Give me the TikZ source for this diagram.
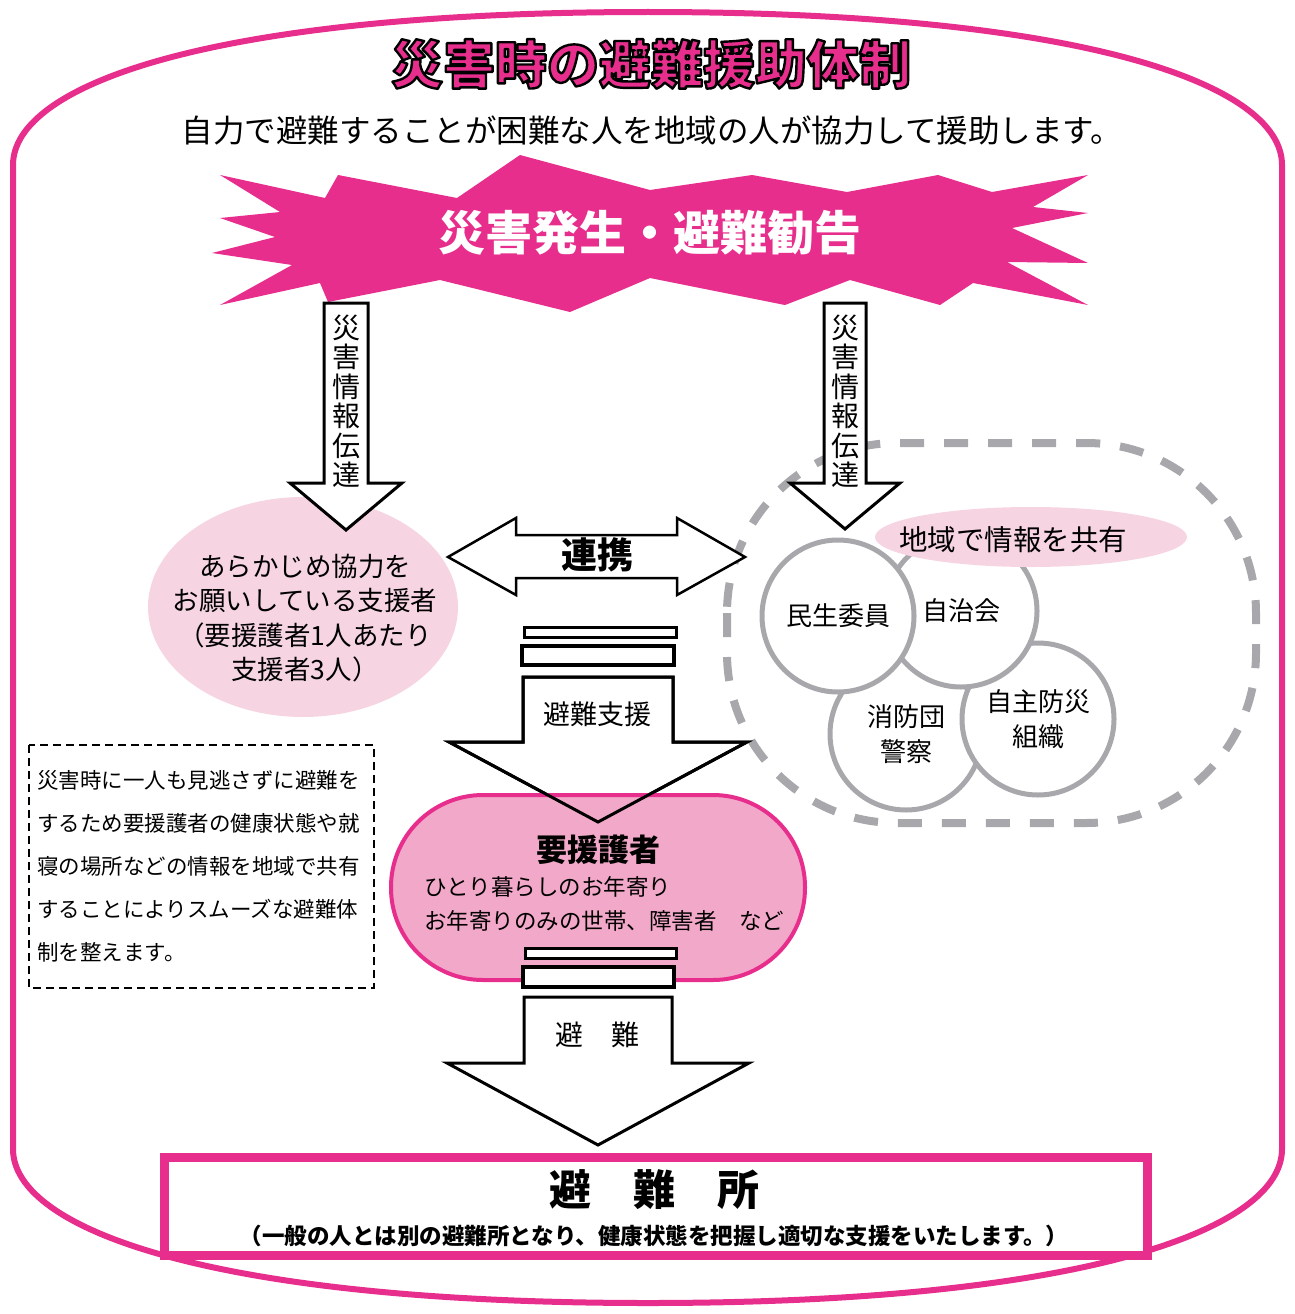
\documentclass[tikz,border=0pt]{standalone}
\usepackage{fontspec}
\setmainfont{Noto Sans CJK JP}
\usetikzlibrary{shapes,arrows,calc,positioning}
\definecolor{dpink}{RGB}{231,46,141}
\definecolor{lpink}{RGB}{246,212,226}
\definecolor{mpink}{RGB}{242,168,200}
\definecolor{cgray}{RGB}{168,168,172}
\newcommand{\jfs}[2]{\fontsize{#1}{#2}\selectfont}
% down block arrow: centre x, top y, half shaft, head base y, half head, tip y
\newcommand{\blockdown}[7][arrowbox]{%
  \draw[#1] (#2-#4,#3) -- (#2+#4,#3) -- (#2+#4,#5) -- (#2+#6,#5) -- (#2,#7)
    -- (#2-#6,#5) -- (#2-#4,#5) -- cycle;}
% pink text with a dark outline
\newcommand{\outlinetext}[1]{{\color{dpink}\special{pdf:code q 2 Tr 2.4 w 1 j 0 0 0 RG}#1\special{pdf:code Q}}}

\begin{document}
\begin{tikzpicture}[x=1pt, y=-1pt]
        \tikzstyle{arrowbox} = [draw=black, fill=white, line width=3pt]
        \tikzstyle{arrowline} = [draw=black, line width=3pt]
        \tikzstyle{bar} = [draw=black, fill=white, line width=3pt]
        \tikzstyle{circ} = [circle, draw=cgray, fill=white, line width=5pt,
        minimum size=152pt, inner sep=0pt, align=center, font=\jfs{26}{35}]
        \tikzset{txt/.style={inner sep=0pt, align=center}}

        \useasboundingbox (0,0) rectangle (1295,1314);

        % frame
        \draw[dpink, line width=6pt] (13,165) .. controls (13,85) and (210,12) .. (648,12)
          .. controls (1086,12) and (1282,85) .. (1282,165) -- (1282,1149)
          .. controls (1282,1229) and (1086,1303) .. (648,1303)
          .. controls (210,1303) and (13,1229) .. (13,1149) -- cycle;

        % title
        \node [txt, font=\jfs{52}{52}\bfseries] (title) at (651,64) {\outlinetext{災害時の避難援助体制}};
        \node [txt, font=\jfs{31.5}{31.5}] (lead) at (652,130) {自力で避難することが困難な人を地域の人が協力して援助します。};

        % burst
        \fill[dpink] (220,175) -- (325,198) -- (338,175) -- (457,198) -- (520,155) -- (650,190)
          -- (752,175) -- (847,192) -- (938,175) -- (992,192) -- (1088,175) -- (1033,207)
          -- (1088,213) -- (1012,228) -- (1088,263) -- (1007,262) -- (1088,305) -- (973,283)
          -- (940,305) -- (850,280) -- (785,305) -- (650,278) -- (570,312) -- (440,280)
          -- (328,302) -- (320,283) -- (220,305) -- (292,265) -- (212,253) -- (275,237)
          -- (220,218) -- (280,212) -- cycle;
        \node [txt, font=\jfs{47}{47}\bfseries, text=white] (alarm) at (650,233) {災害発生・避難勧告};

        % supporters
        \fill[lpink] (303,607) ellipse [x radius=155, y radius=110];
        \node [txt, font=\jfs{26.5}{34.3}] (helpers) at (305,618) {あらかじめ協力を\\お願いしている支援者\\（要援護者1人あたり\\支援者3人）};

        % local network
        \draw[cgray, line width=8pt, dash pattern=on 24pt off 20pt, rounded corners=170pt] (727,443) rectangle (1256,823);
        \node [circ] (fire) at (906,734) {消防団\\警察};
        \node [circ] (bousai) at (1038,719) {自主防災\\組織};
        \node [circ] (jichi) at (961,611) {自治会};
        \node [circ] (minsei) at (838,616) {民生委員};
        \node [ellipse, fill=lpink, minimum width=312pt, minimum height=60pt, inner sep=0pt] (share) at (1031,537) {};
        \node [txt, font=\jfs{28.5}{28.5}] (sharetext) at (1013,540) {地域で情報を共有};

        % information arrows
        \blockdown{346}{303}{22}{483}{56}{530}
        \blockdown{845}{303}{21}{483}{55}{529}
        \node [txt, font=\jfs{28}{29.5}] (infoL) at (346,401) {災\\害\\情\\報\\伝\\達};
        \node [txt, font=\jfs{28}{29.5}] (infoR) at (845,401) {災\\害\\情\\報\\伝\\達};

        % cooperation
        \draw[arrowbox, line width=2.5pt] (448,557) -- (516,518) -- (516,535) -- (677,535) -- (677,518)
          -- (745,557) -- (677,595) -- (677,578) -- (516,578) -- (516,595) -- cycle;
        \node [txt, font=\jfs{36}{36}\bfseries] (renkei) at (597,555) {連携};

        % support arrow
        \draw[bar] (524,627) rectangle (676,637);
        \draw[bar, line width=4pt] (522,646) rectangle (674,665);
        \blockdown{598}{677}{75}{742}{149}{822}
        \node [txt, font=\jfs{27}{27}] (support) at (597,714) {避難支援};

        % people in need
        \draw[dpink, line width=4pt, fill=mpink, rounded corners=92pt] (391,795) rectangle (805,980);
        \blockdown[arrowline]{598}{677}{75}{742}{149}{822}
        \node [txt, font=\jfs{31}{31}\bfseries] (needy) at (598,850) {要援護者};
        \node [txt, font=\jfs{22.5}{34}, anchor=west, align=left] (needylist) at (424,904)
          {ひとり暮らしのお年寄り\\お年寄りのみの世帯、障害者　など};

        % evacuation arrow
        \draw[bar] (525,948) rectangle (676,958);
        \draw[bar, line width=4pt] (523,967) rectangle (674,987);
        \blockdown{598}{997}{74}{1063}{151}{1145}
        \node [txt, font=\jfs{28}{28}] (evac) at (597,1035) {避　難};

        % note
        \draw[black, line width=2pt, dash pattern=on 8pt off 5pt] (29,745) rectangle (374,988);
        \node [txt, font=\jfs{21.5}{43}, anchor=west, align=left] (note) at (37,866)
          {災害時に一人も見逃さずに避難を\\するため要援護者の健康状態や就\\寝の場所などの情報を地域で共有\\することによりスムーズな避難体\\制を整えます。};

        % shelter
        \draw[dpink, line width=9pt, fill=white] (164.5,1157.5) rectangle (1147.5,1255.5);
        \node [txt, font=\jfs{42}{42}\bfseries] (shelter) at (654,1190) {避　難　所};
        \node [txt, font=\jfs{22.5}{22.5}\bfseries] (shelternote) at (654,1236)
          {（一般の人とは別の避難所となり、健康状態を把握し適切な支援をいたします。）};

\end{tikzpicture}
\end{document}
